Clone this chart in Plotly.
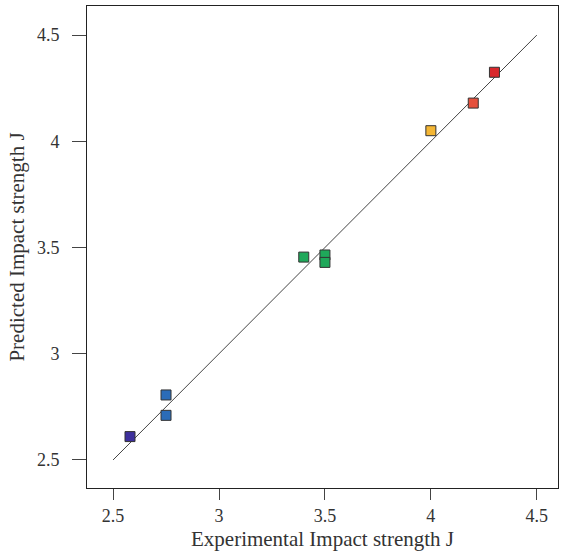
import plotly.graph_objects as go

experimental = [2.58, 2.75, 2.75, 3.40, 3.50, 3.50, 4.00, 4.20, 4.30]
predicted = [2.61, 2.806, 2.71, 3.455, 3.465, 3.43, 4.05, 4.18, 4.325]
colors = ["#3d2f9c", "#2b6cb8", "#2b6cb8", "#1fa85a", "#1fa85a", "#1fa85a",
          "#f4b634", "#e5503c", "#d9282c"]
line_x = [2.5, 4.5]
line_y = [2.5, 4.5]
ticks = [2.5, 3, 3.5, 4, 4.5]
tick_text = ["2.5", "3", "3.5", "4", "4.5"]

fig = go.Figure()
fig.add_trace(go.Scatter(x=line_x, y=line_y, mode="lines",
                         line=dict(color="#444444", width=1), showlegend=False))
fig.add_trace(go.Scatter(x=experimental, y=predicted, mode="markers",
                         marker=dict(symbol="square", size=10, color=colors,
                                     line=dict(color="#333333", width=1)),
                         showlegend=False))

family = "Liberation Serif, Times New Roman, serif"
tick_font = dict(family=family, size=18, color="#333333")
title_font = dict(family=family, size=21, color="#333333")
axis_common = dict(showline=True, linecolor="#222222", linewidth=1, mirror=True,
                   ticks="outside", tickcolor="#444444",
                   showgrid=False, zeroline=False, tickvals=ticks,
                   tickfont=tick_font)
fig.update_layout(
    width=561, height=557,
    margin=dict(l=87, r=3, t=6, b=69),
    plot_bgcolor="white", paper_bgcolor="white",
    font=tick_font,
    xaxis=dict(range=[2.377, 4.6], ticklen=11, ticktext=tick_text,
               title=dict(text="Experimental Impact strength J", font=title_font, standoff=6),
               **axis_common),
    yaxis=dict(range=[2.368, 4.637], ticklen=14,
               ticktext=[t + "\u2002" for t in tick_text],
               title=dict(text="Predicted Impact strength J", font=title_font, standoff=6),
               **axis_common),
)
fig.write_html("out.html", config={"displayModeBar": False},
               post_script="document.body.style.margin='0';document.body.style.overflow='hidden';")
